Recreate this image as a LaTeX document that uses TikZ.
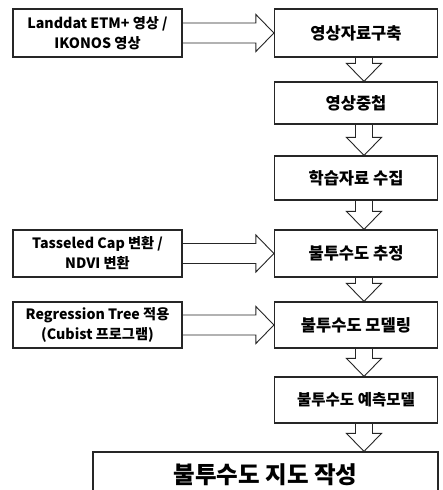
\documentclass[tikz,border=0pt]{standalone}
\usepackage{fontspec}
\setmainfont{Noto Sans CJK KR}
\usetikzlibrary{calc}
\tikzset{
  lbox/.style={draw=black!85, line width=1.2pt, fill=white, inner sep=0pt,
    minimum width=169pt, align=center,
    font=\fontsize{14.2}{20}\selectfont\bfseries},
  rbox/.style={draw=black!85, line width=1.2pt, fill=white, inner sep=0pt,
    minimum width=163pt, font=\fontsize{16.5}{20}\selectfont\bfseries},
  barrow/.style={draw=black!85, line width=0.9pt, line join=miter}
}
\newcommand\myvarrow[2]{%
  \draw[barrow] let \p1=(#1.south), \p2=(#2.north) in
    (355.5pt,\y1) -- (355.5pt,\y2+18pt) -- (346.5pt,\y2+18pt) -- (364pt,\y2)
    -- (381.5pt,\y2+18pt) -- (372.5pt,\y2+18pt) -- (372.5pt,\y1);}
\newcommand\myharrow[2]{%
  \draw[barrow] let \p1=(#1.east), \p2=(#2.west) in
    (\x1,\y1+10pt) -- (\x2-18pt,\y1+10pt) -- (\x2-18pt,\y1+18.5pt) -- (\x2,\y1)
    -- (\x2-18pt,\y1-18.5pt) -- (\x2-18pt,\y1-10pt) -- (\x1,\y1-10pt);}
\begin{document}
\begin{tikzpicture}[x=1pt,y=-1pt]
\useasboundingbox[fill=white] (0,0) rectangle (442,490);
% right column
\node[rbox, minimum height=48pt] (b1) at (356,33) {영상자료구축};
\node[rbox, minimum height=42pt] (b2) at (356,103) {영상중첩};
\node[rbox, minimum height=44pt] (b3) at (356,178) {학습자료 수집};
\node[rbox, minimum height=47pt] (b4) at (356,253.5) {불투수도 추정};
\node[rbox, minimum height=46pt] (b5) at (356,325) {불투수도 모델링};
\node[rbox, minimum height=46pt, font=\fontsize{15.5}{20}\selectfont\bfseries] (b6) at (356,400) {불투수도 예측모델};
\node[rbox, minimum width=345pt, minimum height=46pt, font=\fontsize{23.5}{28}\selectfont\bfseries] (b7) at (265.5,475) {불투수도 지도 작성};
% left column
\node[lbox, minimum height=48pt] (l1) at (97.5,33) {Landdat ETM+ 영상 /\\IKONOS 영상};
\node[lbox, minimum height=47pt] (l2) at (97.5,253.5) {Tasseled Cap 변환 /\\NDVI 변환};
\node[lbox, minimum height=46pt] (l3) at (97.5,325) {Regression Tree 적용\\(Cubist 프로그램)};
% connectors
\myharrow{l1}{b1}
\myharrow{l2}{b4}
\myharrow{l3}{b5}
\myvarrow{b1}{b2}
\myvarrow{b2}{b3}
\myvarrow{b3}{b4}
\myvarrow{b4}{b5}
\myvarrow{b5}{b6}
\myvarrow{b6}{b7}
\end{tikzpicture}
\end{document}
